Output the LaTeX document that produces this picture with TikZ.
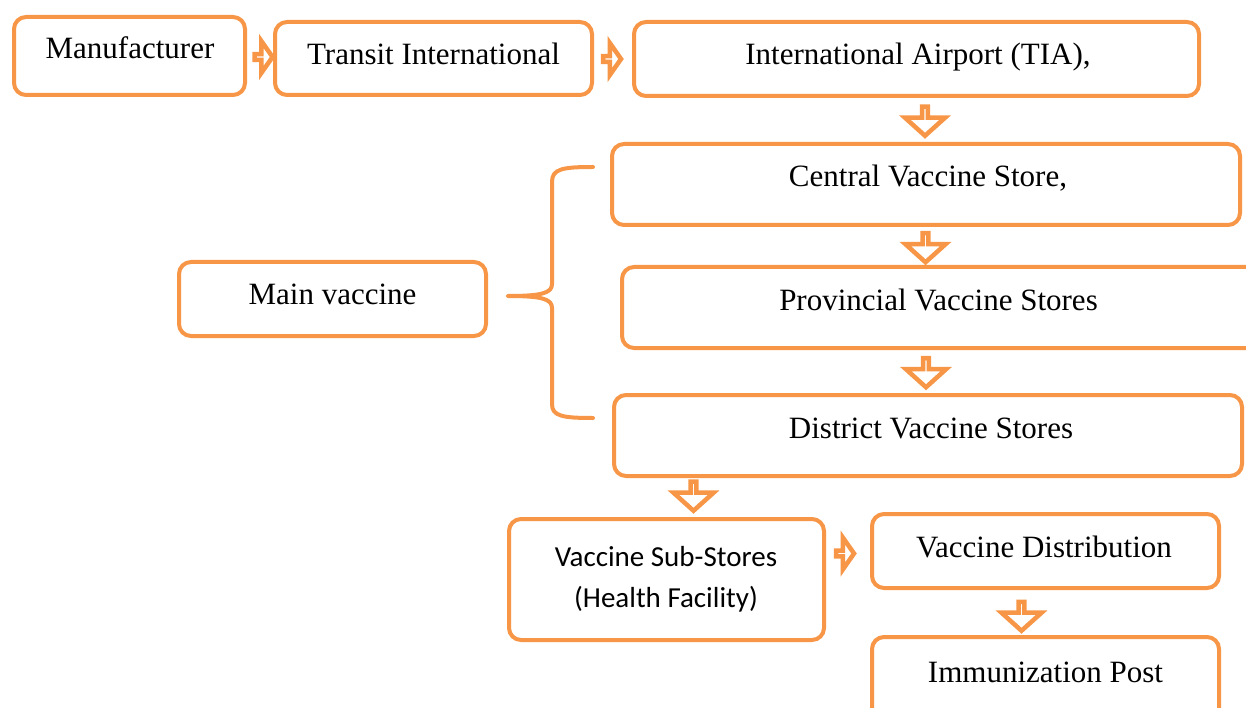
\documentclass[tikz,border=0pt]{standalone}
\usepackage{fontspec}
\setmainfont{Liberation Serif}
\newfontfamily\calibrifont{Carlito}
\usetikzlibrary{shapes.arrows}
\definecolor{boxorange}{HTML}{F79646}
\tikzset{
  box/.style={draw=boxorange, line width=4pt, rounded corners=12pt, fill=white, inner sep=0pt, outer sep=0pt},
  lbl/.style={anchor=base, inner sep=0pt, font=\fontsize{31}{36}\selectfont},
  clbl/.style={anchor=base, inner sep=0pt, font=\calibrifont\fontsize{29}{34}\selectfont},
  barrow/.style={single arrow, draw=boxorange, fill=white, line width=4.5pt, inner sep=0pt, outer sep=0pt,
     single arrow head indent=0pt},
  rarrow/.style={barrow, single arrow tip angle=110, minimum height=18, minimum width=32, single arrow head extend=10pt},
  darrow/.style={barrow, single arrow tip angle=96, rotate=-90, minimum height=29, minimum width=40, single arrow head extend=14pt},
  brace/.style={draw=boxorange, line width=4pt, line cap=round, line join=round}
}
\begin{document}
\begin{tikzpicture}[x=1pt,y=-1pt]
\path[use as bounding box] (0,0) rectangle (1246,708);
\clip (0,0) rectangle (1246,708);
% boxes
\node[box, minimum width=231, minimum height=78] (man) at (129.5,56) {};
\node[box, minimum width=317, minimum height=73] (transit) at (433.5,58.5) {};
\node[box, minimum width=565, minimum height=74] (tia) at (916.5,59) {};
\node[box, minimum width=628, minimum height=81] (central) at (926,184.5) {};
\node[box, minimum width=640, minimum height=81] (prov) at (942,307.5) {};
\node[box, minimum width=628, minimum height=81] (dist) at (928,435.5) {};
\node[box, minimum width=307, minimum height=74] (main) at (332.5,299) {};
\node[box, minimum width=315, minimum height=121] (sub) at (666.5,579.5) {};
\node[box, minimum width=347, minimum height=74] (distr) at (1045.5,551) {};
\node[box, minimum width=347, minimum height=83] (imm) at (1045.5,678.5) {};
% labels
\node[lbl] (tman) at (130,59) {Manufacturer};
\node[lbl] (ttransit) at (433.5,65) {Transit International};
\node[lbl] (ttia) at (918,65) {International Airport (TIA),};
\node[lbl] (tcentral) at (928,187) {Central Vaccine Store,};
\node[lbl] (tprov) at (938.5,310) {Provincial Vaccine Stores};
\node[lbl] (tdist) at (931,438) {District Vaccine Stores};
\node[lbl] (tmain) at (332.5,305) {Main vaccine};
\node[clbl] (tsub1) at (666,566) {Vaccine Sub-Stores};
\node[clbl] (tsub2) at (666,607) {(Health Facility)};
\node[lbl] (tdistr) at (1044,557) {Vaccine Distribution};
\node[lbl] (timm) at (1045.5,682) {Immunization Post};
% block arrows
\node[rarrow] (a1) at (262.5,57) {};
\node[rarrow] (a2) at (611,59) {};
\node[darrow] (a3) at (925,120) {};
\node[darrow] (a4) at (925.5,246.5) {};
\node[darrow] (a5) at (926,371.5) {};
\node[darrow] (a6) at (693.5,495) {};
\node[rarrow] (a7) at (844,553.5) {};
\node[darrow] (a8) at (1021.5,615) {};
% brace
\coordinate (btop) at (593,167);
\coordinate (btip) at (508,296);
\coordinate (bbot) at (593,418);
\draw[brace] (btop) .. controls (562,167) and (552,169) .. (552,182) -- (552,284)
  .. controls (552,293) and (542,296) .. (btip)
  .. controls (542,296) and (552,299) .. (552,308) -- (552,404)
  .. controls (552,416) and (562,418) .. (bbot);
\end{tikzpicture}
\end{document}
